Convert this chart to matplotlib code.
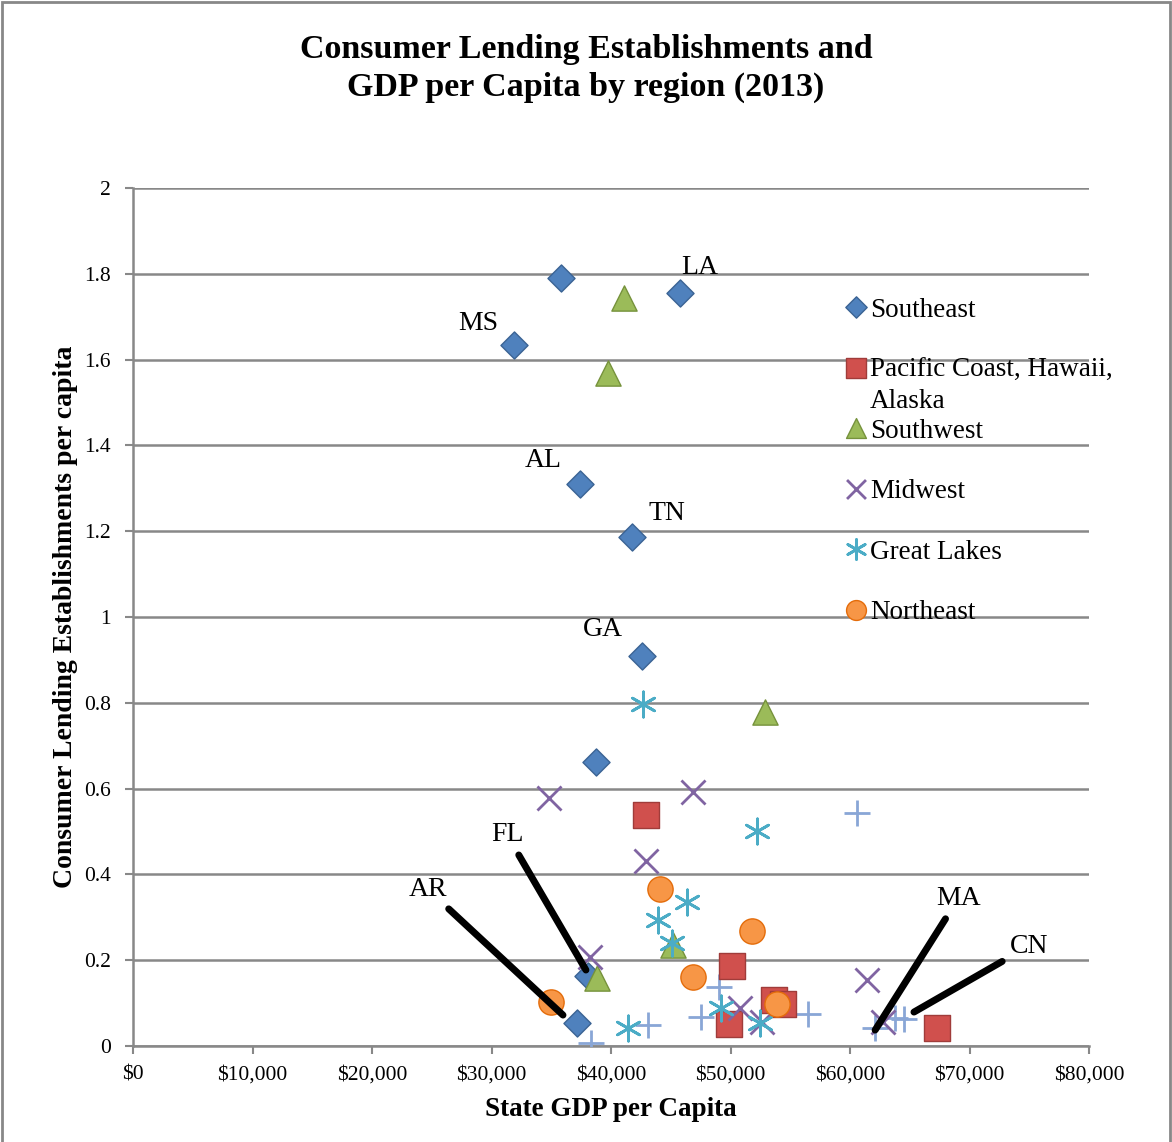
import matplotlib.pyplot as plt
from matplotlib.patches import Rectangle
from matplotlib.ticker import FuncFormatter, MultipleLocator

# Data (GDP per capita in $, establishments per capita)
southeast_x = [35800, 31900, 45800, 37400, 41750, 42600, 38750, 38070, 37150]
southeast_y = [1.790, 1.634, 1.755, 1.310, 1.186, 0.909, 0.662, 0.163, 0.054]

pacific_x = [42900, 50100, 49900, 53650, 54400, 67300]
pacific_y = [0.538, 0.186, 0.051, 0.107, 0.098, 0.042]

southwest_x = [41100, 39750, 52900, 38830, 45200]
southwest_y = [1.744, 1.569, 0.779, 0.159, 0.235]

midwest_x = [34800, 46850, 42900, 38250, 50800, 52650, 61400, 62750]
midwest_y = [0.578, 0.592, 0.431, 0.207, 0.089, 0.056, 0.154, 0.056]

greatlakes_x = [42700, 52200, 46350, 43950, 45100, 41400, 49200, 52450]
greatlakes_y = [0.797, 0.501, 0.336, 0.294, 0.240, 0.042, 0.089, 0.054]

northeast_x = [44100, 51800, 46850, 35000, 53900]
northeast_y = [0.366, 0.268, 0.161, 0.103, 0.098]

other_x = [60600, 38330, 43100, 47550, 49050, 56500, 62100, 63800, 64500]
other_y = [0.543, 0.007, 0.049, 0.068, 0.138, 0.075, 0.042, 0.065, 0.062]

series_names = ['Southeast', 'Pacific Coast, Hawaii,\nAlaska', 'Southwest',
                'Midwest', 'Great Lakes', 'Northeast']

# state labels: (text, label x, label y)
plain_labels = [('LA', 47450, 1.814), ('MS', 28870, 1.683), ('AL', 34300, 1.364),
                ('TN', 44700, 1.242), ('GA', 39330, 0.970)]
# state labels with leader lines: (text, point x, point y, label x, label y)
line_labels = [('AR', 35980, 0.072, 24700, 0.364), ('FL', 37900, 0.177, 31300, 0.492),
               ('MA', 62100, 0.037, 69050, 0.343), ('CN', 65350, 0.079, 74980, 0.233)]

font = 'Liberation Serif'
plt.rcParams['font.family'] = font

fig = plt.figure(figsize=(11.72, 11.42), dpi=100)
ax = fig.add_axes([0.1135, 0.0841, 0.8157, 0.7513])

styles = [
    dict(marker='D', s=190, c='#4F81BD', edgecolors='#3A6394', linewidths=1),
    dict(marker='s', s=330, c='#D0504D', edgecolors='#A03C3A', linewidths=1),
    dict(marker='^', s=330, c='#9BBB59', edgecolors='#76923C', linewidths=1),
    dict(marker='x', s=300, c='#8064A2', linewidths=2),
    dict(marker=(6, 2, 0), s=330, c='#4BACC6', linewidths=2),
    dict(marker='o', s=330, c='#F79646', edgecolors='#E46C0A', linewidths=1),
]
xs = [southeast_x, pacific_x, southwest_x, midwest_x, greatlakes_x, northeast_x]
ys = [southeast_y, pacific_y, southwest_y, midwest_y, greatlakes_y, northeast_y]

ax.scatter(other_x, other_y, marker='+', s=330, c='#89A6D6', linewidths=2, zorder=3)
for x, y, st in zip(xs, ys, styles):
    ax.scatter(x, y, zorder=3, **st)

# legend drawn by hand, Excel-style spacing
for i, (name, st) in enumerate(zip(series_names, styles)):
    yy = 0.861 - i * 0.0705
    ax.scatter([0.7563], [yy], transform=ax.transAxes, clip_on=False, zorder=4,
               **{**st, 's': st['s'] * 0.62})
    ax.text(0.771, yy + 0.011, name, transform=ax.transAxes, va='top', ha='left',
            fontsize=19.5, linespacing=1.3)

for txt, lx, ly in plain_labels:
    ax.text(lx, ly, txt, ha='center', va='center', fontsize=20)
for txt, px, py, lx, ly in line_labels:
    ax.annotate(txt, xy=(px, py), xytext=(lx, ly), ha='center', va='center', fontsize=20,
                arrowprops=dict(arrowstyle='-', lw=5, color='black', shrinkA=4, shrinkB=0))

ax.set_xlim(0, 80000)
ax.set_ylim(0, 2)
ax.xaxis.set_major_locator(MultipleLocator(10000))
ax.yaxis.set_major_locator(MultipleLocator(0.2))
ax.xaxis.set_major_formatter(FuncFormatter(lambda v, p: f'${v:,.0f}'))
ax.yaxis.set_major_formatter(FuncFormatter(lambda v, p: f'{v:g}'))
ax.tick_params(axis='both', labelsize=15.5, length=6, width=1.5, color='#888888')
ax.tick_params(axis='y', pad=10)
ax.tick_params(axis='x', pad=8)
ax.grid(axis='y', color='#888888', lw=1.8)
ax.set_axisbelow(True)
for side in ['top', 'right']:
    ax.spines[side].set_visible(False)
for side in ['left', 'bottom']:
    ax.spines[side].set_color('#888888')
    ax.spines[side].set_linewidth(1.8)

ax.set_xlabel('State GDP per Capita', fontsize=19.5, fontweight='bold', labelpad=9)
ax.set_ylabel('Consumer Lending Establishments per capita', fontsize=20,
              fontweight='bold', labelpad=4)
fig.text(0.5, 0.94, 'Consumer Lending Establishments and\nGDP per Capita by region (2013)',
         ha='center', va='center', fontsize=24.5, fontweight='bold', linespacing=1.25)

fig.patches.append(Rectangle((0.002, -0.01), 0.996, 1.008, transform=fig.transFigure,
                             fill=False, edgecolor='#888888', lw=2))

fig.savefig('out.png', dpi=100)
